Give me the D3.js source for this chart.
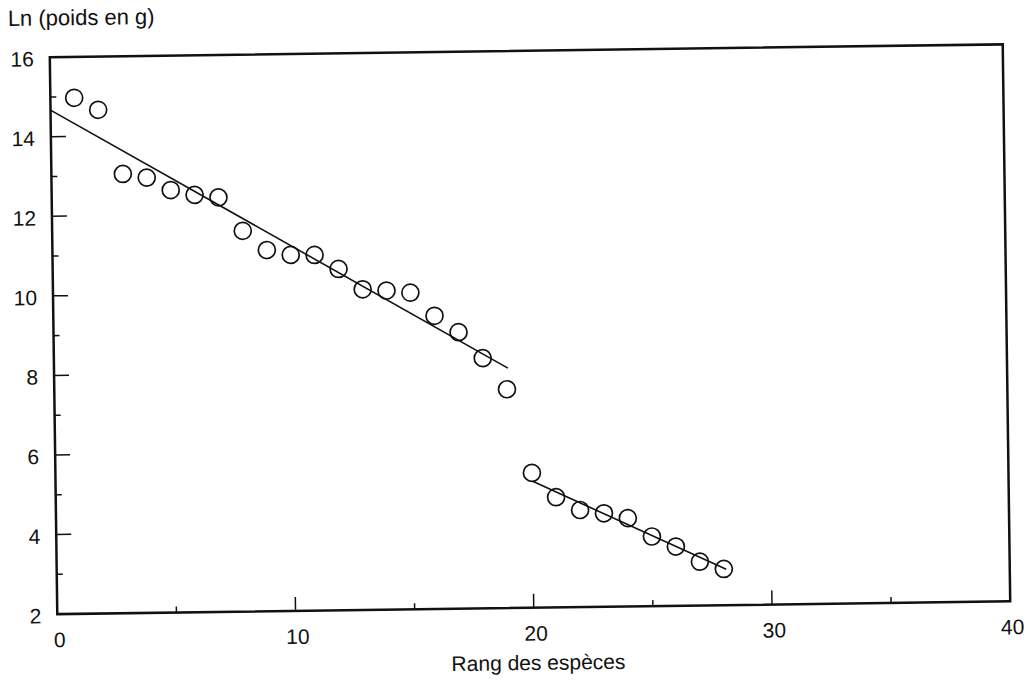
<!DOCTYPE html>
<html>
<head>
<meta charset="utf-8">
<script src="https://cdnjs.cloudflare.com/ajax/libs/d3/7.8.5/d3.min.js"></script>
<style>
body{margin:0;background:#fff;}
text{font-family:"Liberation Sans",Arial,sans-serif;fill:#111;}
</style>
</head>
<body>
<svg id="chart" width="1028" height="686"></svg>
<script>
'use strict';

var rang=[1,2,3,4,5,6,7,8,9,10,11,12,13,14,15,16,17,18,19,20,21,22,23,24,25,26,27,28]
  , lnPoids=[14.97,14.66,13.04,12.94,12.62,12.49,12.42,11.57,11.08,10.95,10.94,10.58,10.06,10.02,9.96,9.37,8.95,8.29,7.50,5.39,4.77,4.44,4.35,4.22,3.75,3.49,3.10,2.91]
  , fit1=[[0,14.67],[19.05,8.03]]
  , fit2=[[20.05,5.17],[28.1,2.90]]
  , xTicks=[0,10,20,30,40]
  , yTicks=[2,4,6,8,10,12,14,16]

var pLeft=53.5, pRight=1006.5, pTop=50.75, pBottom=607.75

// the scanned page sits slightly askew, so the whole figure is tilted a little
var svg=d3.select('#chart')
    .append('g')
    .attr('transform','rotate(-0.77,530,329)')

var x=d3.scaleLinear().domain([0,40]).range([pLeft,pRight])
  , y=d3.scaleLinear().domain([2,16]).range([pBottom,pTop])

// frame
svg.append('rect')
    .attr('x',pLeft)
    .attr('y',pTop)
    .attr('width',pRight-pLeft)
    .attr('height',pBottom-pTop)
    .attr('fill','none')
    .attr('stroke','#111')
    .attr('stroke-width',2.5);

// ticks pointing inward
svg.append('g')
    .selectAll('line')
    .data(d3.range(0,41,5))
    .enter().append('line')
    .attr('x1',function(d){return x(d);})
    .attr('x2',function(d){return x(d);})
    .attr('y1',pBottom)
    .attr('y2',function(d){return d%10===0?pBottom-14:pBottom-6;})
    .attr('stroke','#111')
    .attr('stroke-width',1.5);

svg.append('g')
    .selectAll('line')
    .data(d3.range(2,17,1))
    .enter().append('line')
    .attr('x1',pLeft)
    .attr('x2',function(d){return d%2===0?pLeft+15:pLeft+6;})
    .attr('y1',function(d){return y(d);})
    .attr('y2',function(d){return y(d);})
    .attr('stroke','#111')
    .attr('stroke-width',1.5);

// tick labels
svg.append('g')
    .selectAll('text')
    .data(xTicks)
    .enter().append('text')
    .attr('x',function(d){return x(d)+2;})
    .attr('y',pBottom+33)
    .attr('text-anchor','middle')
    .attr('font-size',21)
    .text(function(d){return d;});

svg.append('g')
    .selectAll('text')
    .data(yTicks)
    .enter().append('text')
    .attr('x',pLeft-16)
    .attr('y',function(d){return y(d)+9;})
    .attr('text-anchor','end')
    .attr('font-size',21)
    .text(function(d){return d;});

// axis titles
svg.append('text')
    .attr('x',12)
    .attr('y',19)
    .attr('font-size',22)
    .text('Ln (poids en g)');

svg.append('text')
    .attr('x',534)
    .attr('y',670)
    .attr('text-anchor','middle')
    .attr('font-size',21)
    .text('Rang des espèces');

// regression lines
var line=d3.line()
    .x(function(d){return x(d[0]);})
    .y(function(d){return y(d[1]);})

svg.selectAll('path.fit')
    .data([fit1,fit2])
    .enter().append('path')
    .attr('class','fit')
    .attr('d',line)
    .attr('fill','none')
    .attr('stroke','#111')
    .attr('stroke-width',1.6);

// points
svg.append('g')
    .selectAll('circle')
    .data(rang)
    .enter().append('circle')
    .attr('cx',function(d){return x(d);})
    .attr('cy',function(d,i){return y(lnPoids[i]);})
    .attr('r',8.5)
    .attr('fill','none')
    .attr('stroke','#111')
    .attr('stroke-width',1.7);
</script>
</body>
</html>
